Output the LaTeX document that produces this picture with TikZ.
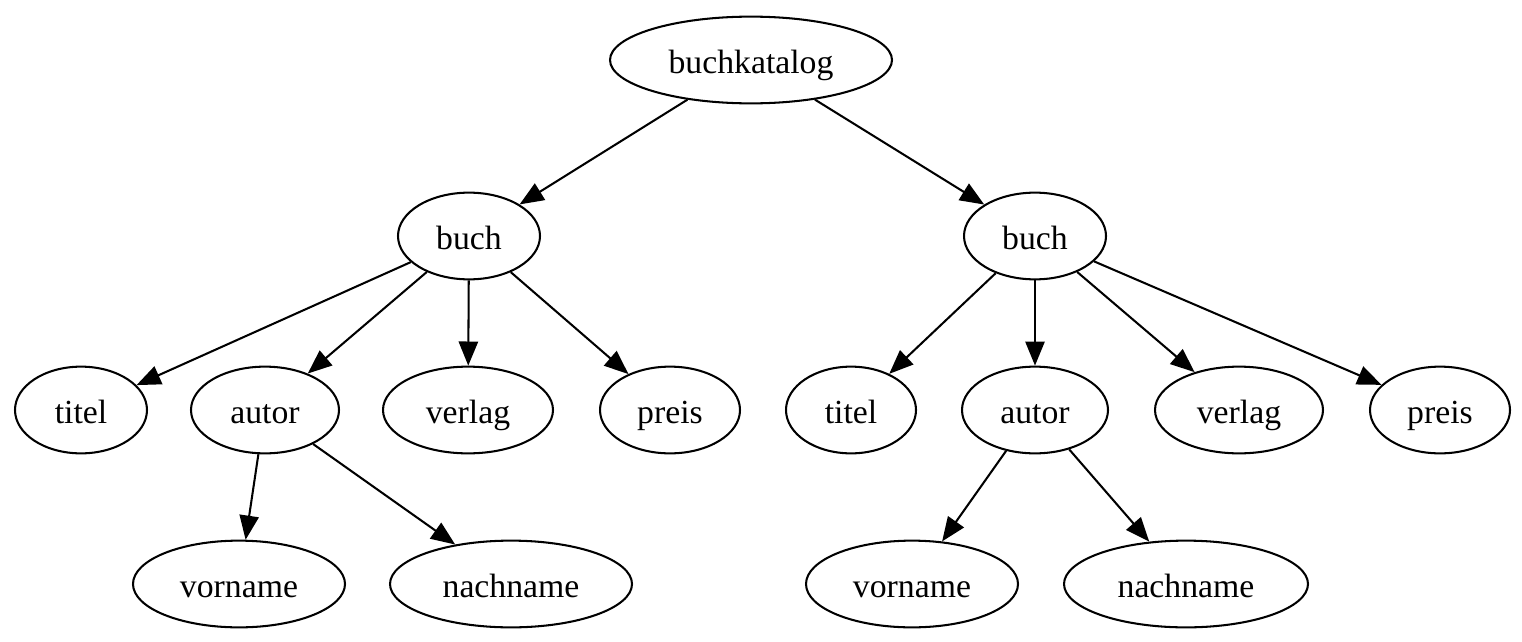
\documentclass[tikz,border=0pt]{standalone}
\usepackage{fontspec}
\setmainfont{Liberation Serif}
\usetikzlibrary{arrows.meta,shapes.geometric}
\begin{document}
\begin{tikzpicture}[x=0.415pt,y=-0.415pt,
  nd/.style={ellipse,draw,line width=0.85pt,inner sep=0pt,minimum height=36pt,text height=12pt,text depth=1.2pt,font=\fontsize{14pt}{16pt}\selectfont},
  edge/.style={line width=0.85pt,-{Triangle[length=10pt,width=8pt]}}]
\useasboundingbox (0,0) rectangle (1522,642);
\node[nd,minimum width=282*0.415pt] (root) at (751,60) {buchkatalog};
\node[nd,minimum width=142*0.415pt] (b1) at (469,236) {buch};
\node[nd,minimum width=142*0.415pt] (b2) at (1035,236) {buch};
\node[nd,minimum width=132*0.415pt] (t1) at (81,410) {titel};
\node[nd,minimum width=148*0.415pt] (a1) at (265,410) {autor};
\node[nd,minimum width=170*0.415pt] (v1) at (468,410) {verlag};
\node[nd,minimum width=140*0.415pt] (p1) at (670,410) {preis};
\node[nd,minimum width=130*0.415pt] (t2) at (851,410) {titel};
\node[nd,minimum width=146*0.415pt] (a2) at (1035,410) {autor};
\node[nd,minimum width=168*0.415pt] (v2) at (1239,410) {verlag};
\node[nd,minimum width=140*0.415pt] (p2) at (1440,410) {preis};
\node[nd,minimum width=212*0.415pt] (vn1) at (239,584) {vorname};
\node[nd,minimum width=242*0.415pt] (nn1) at (511,584) {nachname};
\node[nd,minimum width=212*0.415pt] (vn2) at (912,584) {vorname};
\node[nd,minimum width=244*0.415pt] (nn2) at (1186,584) {nachname};
\draw[edge] (root) -- (b1);
\draw[edge] (root) -- (b2);
\draw[edge] (b1) -- (t1);
\draw[edge] (b1) -- (a1);
\draw[edge] (b1) -- (v1);
\draw[edge] (b1) -- (p1);
\draw[edge] (b2) -- (t2);
\draw[edge] (b2) -- (a2);
\draw[edge] (b2) -- (v2);
\draw[edge] (b2) -- (p2);
\draw[edge] (a1) -- (vn1);
\draw[edge] (a1) -- (nn1);
\draw[edge] (a2) -- (vn2);
\draw[edge] (a2) -- (nn2);
\end{tikzpicture}
\end{document}
